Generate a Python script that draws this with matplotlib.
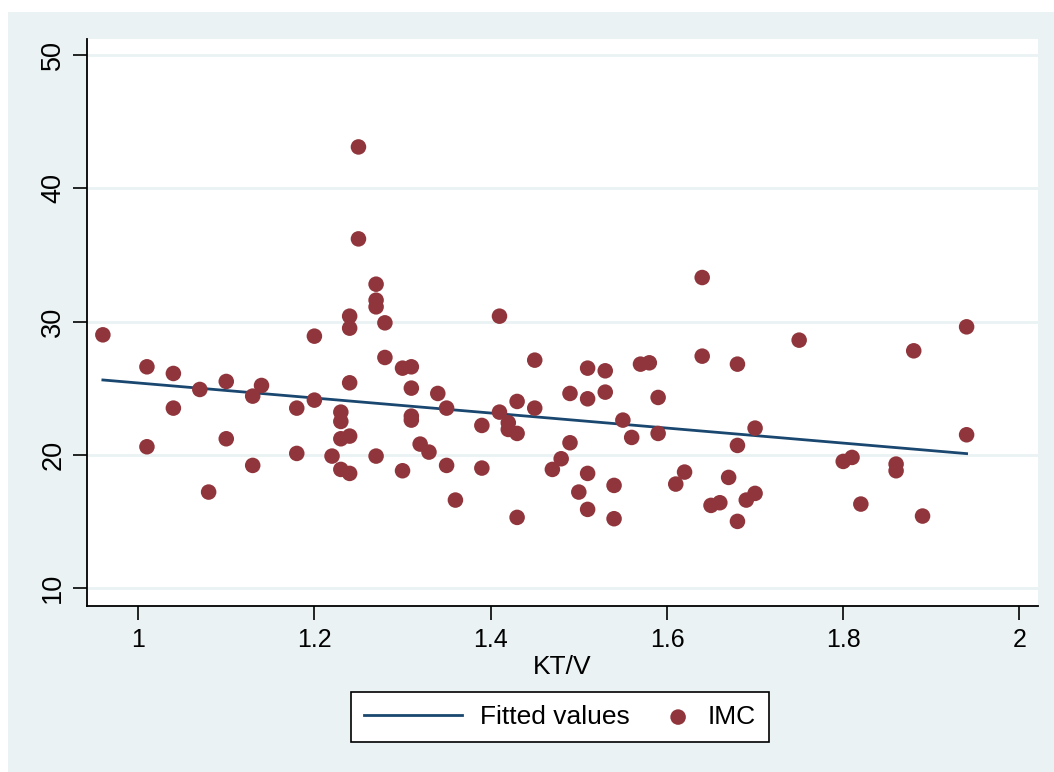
import numpy as np
import matplotlib.pyplot as plt
from matplotlib.patches import Rectangle
from matplotlib.legend_handler import HandlerPathCollection

# datos
ktv = [0.96, 1.01, 1.01, 1.04, 1.04, 1.07, 1.08, 1.10, 1.10, 1.13,
       1.13, 1.14, 1.18, 1.18, 1.20, 1.20, 1.22, 1.23, 1.23, 1.23,
       1.23, 1.24, 1.24, 1.24, 1.24, 1.24, 1.25, 1.25, 1.27, 1.27,
       1.27, 1.27, 1.28, 1.28, 1.30, 1.30, 1.31, 1.31, 1.31, 1.31,
       1.32, 1.33, 1.34, 1.35, 1.35, 1.36, 1.39, 1.39, 1.41, 1.41,
       1.42, 1.42, 1.43, 1.43, 1.43, 1.45, 1.45, 1.47, 1.48, 1.49,
       1.49, 1.50, 1.51, 1.51, 1.51, 1.51, 1.53, 1.53, 1.54, 1.54,
       1.55, 1.56, 1.57, 1.58, 1.59, 1.59, 1.61, 1.62, 1.64, 1.64,
       1.65, 1.66, 1.67, 1.68, 1.68, 1.68, 1.69, 1.70, 1.70, 1.75,
       1.80, 1.81, 1.82, 1.86, 1.86, 1.88, 1.89, 1.94, 1.94]
imc = [29.0, 26.6, 20.6, 26.1, 23.5, 24.9, 17.2, 25.5, 21.2, 24.4,
       19.2, 25.2, 23.5, 20.1, 28.9, 24.1, 19.9, 23.2, 22.5, 21.2,
       18.9, 30.4, 29.5, 25.4, 21.4, 18.6, 43.1, 36.2, 32.8, 31.6,
       31.1, 19.9, 29.9, 27.3, 26.5, 18.8, 26.6, 25.0, 22.9, 22.6,
       20.8, 20.2, 24.6, 23.5, 19.2, 16.6, 22.2, 19.0, 30.4, 23.2,
       22.4, 21.9, 24.0, 21.6, 15.3, 27.1, 23.5, 18.9, 19.7, 24.6,
       20.9, 17.2, 26.5, 24.2, 18.6, 15.9, 26.3, 24.7, 17.7, 15.2,
       22.6, 21.3, 26.8, 26.9, 24.3, 21.6, 17.8, 18.7, 33.3, 27.4,
       16.2, 16.4, 18.3, 26.8, 20.7, 15.0, 16.6, 17.1, 22.0, 28.6,
       19.5, 19.8, 16.3, 19.3, 18.8, 27.8, 15.4, 29.6, 21.5]

xticks = [1, 1.2, 1.4, 1.6, 1.8, 2]
yticks = [10, 20, 30, 40, 50]

# recta ajustada (Fitted values)
pendiente, intercepto = np.polyfit(ktv, imc, 1)
x_fit = np.array([min(ktv), max(ktv)])
y_fit = intercepto + pendiente * x_fit

fondo = '#EAF2F3'
granate = '#90353B'
azul = '#1A476F'

plt.rcParams['font.family'] = ['Liberation Sans', 'DejaVu Sans']

fig = plt.figure(figsize=(10.54, 7.72), dpi=100, facecolor='white')
fig.patches.append(Rectangle((8 / 1054, 0), 1, 1 - 12 / 772, transform=fig.transFigure,
                             facecolor=fondo, edgecolor='none', zorder=-10))

ax = fig.add_axes([87 / 1054, 1 - 606 / 772, (1038 - 87) / 1054, (606 - 39) / 772])
ax.set_facecolor('white')

ax.plot(x_fit, y_fit, color=azul, lw=2, label='Fitted values', zorder=2)
ax.scatter(ktv, imc, s=125, color=granate, edgecolors='none', label='IMC', zorder=3)

ax.set_xlim(0.942, 2.021)
ax.set_ylim(8.65, 51.2)
ax.set_xticks(xticks)
ax.set_xticklabels(['1', '1.2', '1.4', '1.6', '1.8', '2'])
ax.set_yticks(yticks)
ax.set_yticklabels([str(v) for v in yticks], rotation=90, va='center')
ax.tick_params(axis='both', labelsize=18, length=10, width=1.2, color='black', pad=6)
ax.tick_params(axis='y', labelsize=19.5, pad=5)
ax.grid(axis='y', color=fondo, lw=2)
ax.set_axisbelow(True)

for lado in ['top', 'right']:
    ax.spines[lado].set_visible(False)
for lado in ['left', 'bottom']:
    ax.spines[lado].set_linewidth(1.3)

ax.set_xlabel('KT/V', fontsize=19, labelpad=2)


class MarcadorDerecha(HandlerPathCollection):
    def get_xdata(self, legend, xdescent, ydescent, width, height, fontsize):
        return [-xdescent + width - 0.45 * fontsize], [-xdescent + width - 0.45 * fontsize]


handles, labels = ax.get_legend_handles_labels()
leg = fig.legend(handles, labels, loc='center', bbox_to_anchor=(560 / 1054, 1 - 717 / 772),
                 ncol=2, fontsize=19, frameon=True, fancybox=False, edgecolor='black',
                 framealpha=1, handlelength=3.7, handletextpad=0.68, columnspacing=-1.4,
                 borderpad=0.5, scatterpoints=1,
                 handler_map={type(handles[1]): MarcadorDerecha()})
leg.get_frame().set_linewidth(1.2)

fig.savefig('out.png', dpi=100, facecolor=fig.get_facecolor())
